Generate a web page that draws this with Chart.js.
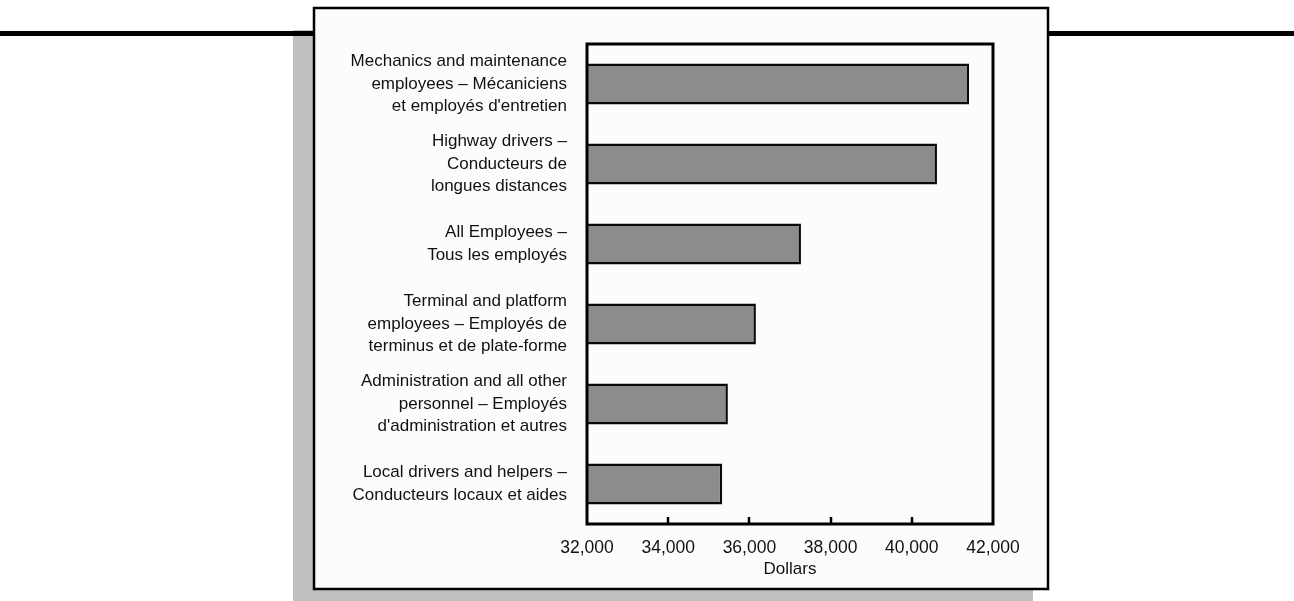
<!DOCTYPE html>
<html>
<head>
<meta charset="utf-8">
<script src="https://cdn.jsdelivr.net/npm/chart.js@4"></script>
<style>
  html, body { margin: 0; padding: 0; background: #ffffff; }
  canvas { display: block; }
</style>
</head>
<body>
<canvas id="payChart" width="1294" height="601"></canvas>
<script>
// categories, top to bottom
const categories = [
    ['Mechanics and maintenance', 'employees \u2013 M\u00e9caniciens', 'et employ\u00e9s d\'entretien'],
    ['Highway drivers \u2013', 'Conducteurs de', 'longues distances'],
    ['All Employees \u2013', 'Tous les employ\u00e9s'],
    ['Terminal and platform', 'employees \u2013 Employ\u00e9s de', 'terminus et de plate-forme'],
    ['Administration and all other', 'personnel \u2013 Employ\u00e9s', 'd\'administration et autres'],
    ['Local drivers and helpers \u2013', 'Conducteurs locaux et aides']
];
const dollars = [41410, 40620, 37270, 36160, 35470, 35330];
const xTicks = [32000, 34000, 36000, 38000, 40000, 42000];

const FONT = 'Liberation Sans, Arial, Helvetica, sans-serif';

// page decoration: rule, shadow and framed panel
const backdrop = {
    id: 'backdrop',
    beforeDraw(chart) {
        const ctx = chart.ctx;
        ctx.save();
        ctx.fillStyle = '#ffffff';
        ctx.fillRect(0, 0, chart.width, chart.height);
        ctx.fillStyle = '#c0c0c0';
        ctx.fillRect(293, 30, 740, 580);
        ctx.fillStyle = '#000000';
        ctx.fillRect(0, 31, chart.width, 5);
        ctx.fillStyle = '#fcfcfc';
        ctx.fillRect(313, 7, 736, 583);
        ctx.strokeStyle = '#000000';
        ctx.lineWidth = 2.5;
        ctx.strokeRect(314, 8, 734, 581);
        ctx.restore();
    },
    afterDatasetsDraw(chart) {
        const ctx = chart.ctx;
        const a = chart.chartArea;
        const x = chart.scales.x;
        ctx.save();
        ctx.strokeStyle = '#000000';
        ctx.lineWidth = 3;
        ctx.strokeRect(a.left, a.top, a.right - a.left, a.bottom - a.top);
        // inward tick marks
        ctx.lineWidth = 2.5;
        xTicks.slice(1, -1).forEach(v => {
            const px = Math.round(x.getPixelForValue(v));
            ctx.beginPath();
            ctx.moveTo(px, a.bottom);
            ctx.lineTo(px, a.bottom - 7);
            ctx.stroke();
        });
        ctx.restore();
    }
};

new Chart(document.getElementById('payChart'), {
    type: 'bar',
    data: {
        labels: categories,
        datasets: [{
            data: dollars,
            backgroundColor: '#8c8c8c',
            borderColor: '#0a0a0a',
            borderWidth: 2.5,
            borderSkipped: false,
            categoryPercentage: 1,
            barPercentage: 0.51
        }]
    },
    options: {
        indexAxis: 'y',
        responsive: false,
        animation: false,
        layout: { padding: { top: 44, right: 301, bottom: 0, left: 0 } },
        plugins: {
            legend: { display: false },
            tooltip: { enabled: false }
        },
        scales: {
            x: {
                min: 32000,
                max: 42000,
                afterBuildTicks: s => { s.ticks = xTicks.map(v => ({ value: v })); },
                afterFit: s => { s.height = 77; },
                grid: { display: false },
                border: { display: false },
                ticks: {
                    color: '#111111',
                    padding: 6,
                    font: { family: FONT, size: 17.5 },
                    callback: v => v.toLocaleString('en-US')
                },
                title: {
                    display: true,
                    text: 'Dollars',
                    color: '#111111',
                    font: { family: FONT, size: 17 },
                    padding: { top: 0, bottom: 21 }
                }
            },
            y: {
                afterFit: s => { s.width = 587; },
                grid: { display: false, drawTicks: false },
                border: { display: false },
                ticks: {
                    color: '#111111',
                    padding: 20,
                    font: { family: FONT, size: 17, lineHeight: 1.33 }
                }
            }
        }
    },
    plugins: [backdrop]
});
</script>
</body>
</html>
